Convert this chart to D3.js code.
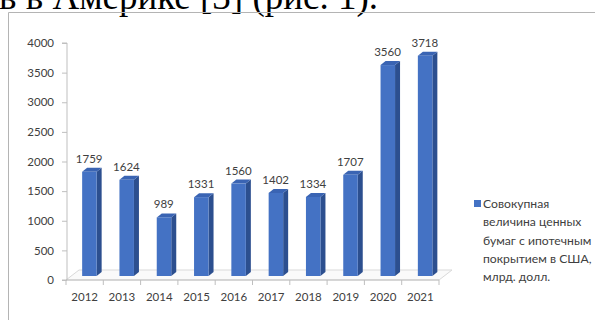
<!DOCTYPE html>
<html>
<head>
<meta charset="utf-8">
<script src="https://cdn.jsdelivr.net/npm/d3@7"></script>
<style>
html,body{margin:0;padding:0;background:#fff;}
svg{display:block;}
</style>
</head>
<body>
<svg id="chart" width="595" height="320"></svg>
<script>
const years = ["2012","2013","2014","2015","2016","2017","2018","2019","2020","2021"];
const values = [1759,1624,989,1331,1560,1402,1334,1707,3560,3718];
const yTicks = [0,500,1000,1500,2000,2500,3000,3500,4000];
const legendLines = ["Совокупная","величина ценных","бумаг с ипотечным","покрытием в США,","млрд. долл."];
const headerText = "в в Америке [3] (рис. 1).";

const svg = d3.select("#chart");
const font = "Lato, 'Open Sans', sans-serif";

// page text above the chart frame
svg.append("text").attr("x", -1).attr("y", 9)
  .attr("font-family", "'Liberation Serif','Times New Roman',serif")
  .attr("font-size", 37).attr("fill", "#000").text(headerText);

// chart frame
svg.append("path").attr("d", "M8.5,320 V12.5 H600")
  .attr("fill", "none").attr("stroke", "#b4b4b4").attr("stroke-width", 1);

const x = d3.scaleBand().domain(years).range([66, 439]).paddingInner(0).paddingOuter(0);
const y = d3.scaleLinear().domain([0, 4000]).range([280, 43]);

const depthX = 13, depthY = -10;

// floor
const x0 = x.range()[0], x1 = x.range()[1], y0 = y(0);
svg.append("path")
  .attr("d", `M${x0},${y0} L${x1},${y0} L${x1+depthX},${y0+depthY} L${x0+depthX},${y0+depthY} Z`)
  .attr("fill", "#fafafa").attr("stroke", "#d9d9d9").attr("stroke-width", 1);

// y axis
const yAxis = d3.axisLeft(y).tickValues(yTicks).tickSize(5).tickPadding(8).tickFormat(d3.format("d"));
const gy = svg.append("g").attr("transform", "translate(67,0)").call(yAxis);
gy.select(".domain").attr("stroke", "#bfbfbf").attr("d", `M-5,${y(4000)}H0V${y(0)}H-5`);
gy.selectAll(".tick line").attr("stroke", "#bfbfbf");
gy.selectAll(".tick text").attr("font-family", font).attr("font-size", 11.5).attr("fill", "#404040");

// x axis
const xAxis = d3.axisBottom(x).tickSize(0).tickPadding(13);
const gx = svg.append("g").attr("transform", `translate(0,${y0})`).call(xAxis);
gx.select(".domain").attr("stroke", "#bfbfbf").attr("d", `M${x0},0H${x1}`);
gx.selectAll(".tick text").attr("font-family", font).attr("font-size", 11.5).attr("fill", "#404040");
// category separators
const bounds = years.map(d => x(d)).concat([x1]);
gx.selectAll("line.sep").data(bounds).enter().append("line")
  .attr("class", "sep").attr("x1", d => d).attr("x2", d => d).attr("y1", 0).attr("y2", 5)
  .attr("stroke", "#bfbfbf");

// bars (3D)
const fw = 14.5, sd = 5, su = 4, lift = 4;
const bars = svg.append("g").selectAll("g.bar").data(years.map((d, i) => ({year: d, v: values[i]})))
  .enter().append("g").attr("class", "bar");
bars.each(function(d) {
  const g = d3.select(this);
  const left = x(d.year) + x.bandwidth() / 2 - 2.5;
  const right = left + fw;
  const top = y(d.v) - lift;
  const bot = y(0) - lift;
  g.append("path").attr("d", `M${right},${bot} L${right},${top} L${right+sd},${top-su} L${right+sd},${bot-su} Z`)
    .attr("fill", "#2c4f8f");
  g.append("path").attr("d", `M${left},${top} L${right},${top} L${right+sd},${top-su} L${left+sd},${top-su} Z`)
    .attr("fill", "#3a64b3");
  g.append("rect").attr("x", left).attr("y", top).attr("width", fw).attr("height", bot - top)
    .attr("fill", "#4472c4");
  g.append("text").attr("x", x(d.year) + x.bandwidth() / 2 + 4.5).attr("y", y(d.v) - 13)
    .attr("text-anchor", "middle").attr("font-family", font).attr("font-size", 11.5)
    .attr("fill", "#404040").text(d.v);
});

// legend
const lg = svg.append("g");
lg.append("rect").attr("x", 474).attr("y", 200).attr("width", 7).attr("height", 7).attr("fill", "#4472c4");
lg.selectAll("text").data(legendLines).enter().append("text")
  .attr("x", 483).attr("y", (d, i) => 208 + i * 18.3)
  .attr("font-family", font).attr("font-size", 12.2).attr("fill", "#404040").text(d => d);
</script>
</body>
</html>
